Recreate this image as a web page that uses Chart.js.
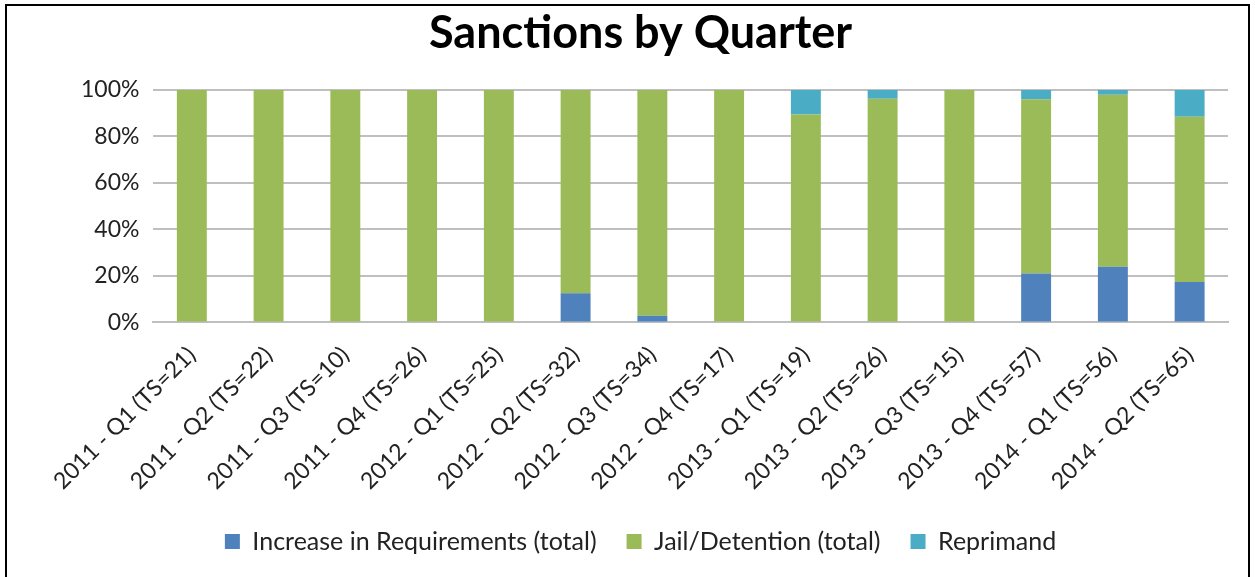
<!DOCTYPE html>
<html>
<head>
<meta charset="utf-8">
<script src="https://cdn.jsdelivr.net/npm/chart.js@4"></script>
<style>
  html, body { margin: 0; padding: 0; background: #fff; }
  #wrap { position: absolute; left: 5px; top: 4px; width: 1245px; height: 577px; border: 2px solid #000; box-sizing: border-box; border-bottom: none; }
  canvas { display: block; }
</style>
</head>
<body>
<div id="wrap"><canvas id="c"></canvas></div>
<script>
const categories = [
  "2011 - Q1 (TS=21)", "2011 - Q2 (TS=22)", "2011 - Q3 (TS=10)", "2011 - Q4 (TS=26)",
  "2012 - Q1 (TS=25)", "2012 - Q2 (TS=32)", "2012 - Q3 (TS=34)", "2012 - Q4 (TS=17)",
  "2013 - Q1 (TS=19)", "2013 - Q2 (TS=26)", "2013 - Q3 (TS=15)", "2013 - Q4 (TS=57)",
  "2014 - Q1 (TS=56)", "2014 - Q2 (TS=65)"
];
const increaseInRequirements = [0, 0, 0, 0, 0, 12.5, 2.9, 0, 0, 0, 0, 21.0, 24.0, 17.4];
const jailDetention         = [100, 100, 100, 100, 100, 87.5, 97.1, 100, 89.5, 96.2, 100, 75.0, 74.0, 71.1];
const reprimand             = [0, 0, 0, 0, 0, 0, 0, 0, 10.5, 3.8, 0, 4.0, 2.0, 11.5];
const yTicks = [0, 20, 40, 60, 80, 100];

const FONT = "Lato, 'Open Sans', sans-serif";
const barOpts = { barPercentage: 0.39, categoryPercentage: 1.0 };

new Chart(document.getElementById('c'), {
  type: 'bar',
  data: {
    labels: categories,
    datasets: [
      { label: 'Increase in Requirements (total)', data: increaseInRequirements, backgroundColor: '#4F81BD', ...barOpts },
      { label: 'Jail/Detention (total)', data: jailDetention, backgroundColor: '#9BBB59', ...barOpts },
      { label: 'Reprimand', data: reprimand, backgroundColor: '#4BACC6', ...barOpts }
    ]
  },
  options: {
    responsive: true,
    maintainAspectRatio: false,
    animation: false,
    layout: { padding: { left: 46, right: 20, top: 0, bottom: 17 } },
    plugins: {
      title: {
        display: true,
        text: 'Sanctions by Quarter',
        color: '#000',
        font: { family: FONT, size: 45, weight: 'bold' },
        padding: { top: 0, bottom: 30 }
      },
      legend: {
        position: 'bottom',
        labels: {
          color: '#222',
          font: { family: FONT, size: 25 },
          boxWidth: 15, boxHeight: 15,
          padding: 30
        }
      },
      tooltip: { enabled: false }
    },
    scales: {
      x: {
        stacked: true,
        grid: { display: false, drawTicks: false },
        border: { display: true, color: '#BFBFBF', width: 2 },
        afterFit: (scale) => { scale.height -= 15; },
        ticks: {
          color: '#222',
          font: { family: FONT, size: 23 },
          maxRotation: 45, minRotation: 45,
          padding: 19,
          autoSkip: false
        }
      },
      y: {
        stacked: true,
        min: 0, max: 100,
        afterBuildTicks: (axis) => { axis.ticks = yTicks.map(v => ({ value: v })); },
        afterFit: (scale) => { scale.width += 14; },
        grid: { color: '#BFBFBF', lineWidth: 2, drawTicks: false },
        border: { display: false },
        ticks: {
          color: '#222',
          font: { family: FONT, size: 23 },
          padding: 14,
          callback: (v) => v + '%'
        }
      }
    }
  }
});
</script>
</body>
</html>
